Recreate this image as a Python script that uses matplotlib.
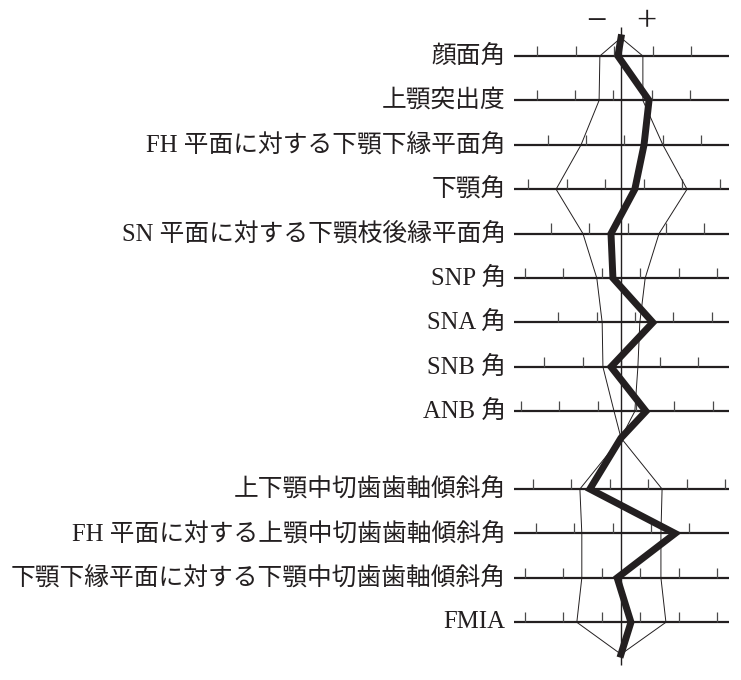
import numpy as np
import matplotlib
matplotlib.use('Agg')
import matplotlib.pyplot as plt

INK = '#231f20'
FONT = ['Liberation Serif', 'Noto Sans CJK JP']

labels = [
    "顔面角",
    "上顎突出度",
    "FH 平面に対する下顎下縁平面角",
    "下顎角",
    "SN 平面に対する下顎枝後縁平面角",
    "SNP 角",
    "SNA 角",
    "SNB 角",
    "ANB 角",
    "上下顎中切歯歯軸傾斜角",
    "FH 平面に対する上顎中切歯歯軸傾斜角",
    "下顎下縁平面に対する下顎中切歯歯軸傾斜角",
    "FMIA",
]

# scale marks on each row (units = one scale step, 0 = mean)
row_ticks = [
    [-2.18, -1.17, -0.17, 0.83, 1.82],
    [-2.20, -1.20, -0.20, 0.80, 1.80],
    [-1.89, -0.91, 0.09, 1.09, 2.08],
    [-2.41, -1.41, -0.41, 0.59, 1.60, 2.59],
    [-1.83, -0.83, 0.17, 1.17, 2.17],
    [-2.50, -1.50, -0.50, 0.49, 1.51, 2.51],
    [-1.63, -0.63, 0.36, 1.36, 2.36],
    [-2.00, -1.00, 0.00, 1.02, 2.00],
    [-2.60, -1.61, -0.61, 0.39, 1.39, 2.39],
    [-2.30, -1.29, -0.29, 0.71, 1.71, 2.72],
    [-2.22, -1.22, -0.22, 0.78, 1.78],
    [-2.50, -1.50, -0.50, 0.49, 1.51, 2.51],
    [-2.50, -1.50, -0.50, 0.49, 1.51, 2.51],
]

# standard range (thin polygon)
norm_low = [-0.55, -0.57, -1.04, -1.69, -0.99, -0.63, -0.49, -0.47, -0.18,
            -1.07, -1.02, -1.02, -1.15]
norm_high = [0.57, 0.57, 1.09, 1.72, 0.99, 0.63, 0.49, 0.44, 0.36,
             1.07, 1.04, 1.04, 1.17]

# patient (thick line)
patient = [-0.08, 0.73, 0.60, 0.36, -0.26, -0.21, 0.83, -0.26, 0.65,
           -0.81, 1.41, -0.10, 0.26]

n_upper = 9
row_y = np.concatenate([np.arange(n_upper), 9.75 + np.arange(len(labels) - n_upper)])
apex_y = [-0.41, 8.60, 13.47]


def polyline(vals):
    xs = [0] + list(vals[:n_upper]) + [0] + list(vals[n_upper:]) + [0]
    ys = [apex_y[0]] + list(row_y[:n_upper]) + [apex_y[1]] + list(row_y[n_upper:]) + [apex_y[2]]
    return xs, ys


fig = plt.figure(figsize=(7.41, 6.80), dpi=100)
ax = fig.add_axes([0, 0, 1, 1])
ax.axis('off')
ax.set_xlim(-16.17, 3.125)
ax.set_ylim(14.05, -1.261)

ax.hlines(row_y, -2.79, 2.81, color=INK, lw=1.6, zorder=2)
for y, ticks in zip(row_y, row_ticks):
    ax.vlines(ticks, y - 0.23, y, color='#4a4a4a', lw=0.9, zorder=2)

for y, lab in zip(row_y, labels):
    ax.text(-3.0, y, lab, ha='right', va='center', fontsize=17.8,
            family=FONT, color=INK)

ax.vlines(0, -0.65, 13.72, color=INK, lw=1.0, zorder=3)

xs, ys = polyline(norm_low)
ax.plot(xs, ys, color=INK, lw=0.7, zorder=3)
xs, ys = polyline(norm_high)
ax.plot(xs, ys, color=INK, lw=0.7, zorder=3)

xs, ys = polyline(patient)
ax.plot(xs, ys, color=INK, lw=5.0, solid_joinstyle='miter', zorder=4)

ax.text(-0.65, -0.56, "−", ha='center', va='baseline', fontsize=26,
        family=FONT, color=INK)
ax.text(0.65, -0.56, "+", ha='center', va='baseline', fontsize=26,
        family=FONT, color=INK)

fig.savefig('out.png', dpi=100)
